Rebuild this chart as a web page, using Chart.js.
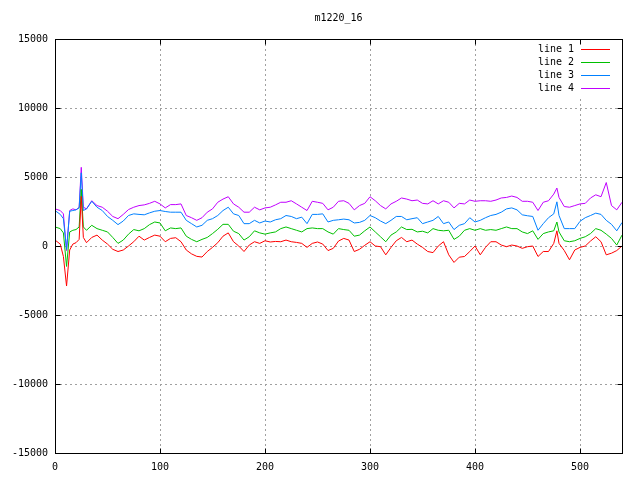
<!DOCTYPE html>
<html><head><meta charset="utf-8">
<script src="https://cdn.jsdelivr.net/npm/chart.js@4/dist/chart.umd.min.js"></script>
<style>html,body{margin:0;padding:0;background:#fff}#wrap{width:640px;height:480px}</style>
</head><body><div id="wrap"><canvas id="c" width="640" height="480"></canvas></div>
<script>
const chartTitle = "m1220_16";
const seriesNames = ["line 1", "line 2", "line 3", "line 4"];
const seriesColors = ["#ff0000", "#00c000", "#0080ff", "#c000ff"];
const xTicks = [0, 100, 200, 300, 400, 500];
const yTicks = [-15000, -10000, -5000, 0, 5000, 10000, 15000];

const xs = [0,5,8,11,14,17,20,23,25,27,30,35,40,45,50,55,60,65,70,75,80,85,90,
95,100,105,110,115,120,125,130,135,140,145,150,155,160,165,170,175,180,
185,190,195,200,205,210,215,220,225,230,235,240,245,250,255,260,265,270,
275,280,285,290,295,300,305,310,315,320,325,330,335,340,345,350,355,360,
365,370,375,380,385,390,395,400,405,410,415,420,425,430,435,440,445,450,
455,460,465,470,475,478,480,485,490,495,500,505,510,515,520,525,530,535,540];

const line1 = [430,140,-760,-2900,-290,140,240,480,3600,620,240,620,790,430,140,-240,-400,-290,0,310,710,430,620,
790,710,310,550,600,310,-290,-570,-750,-800,-400,-100,240,710,950,310,0,-400,
70,310,190,380,290,330,310,430,310,260,190,-100,190,290,140,-330,-170,360,
550,430,-400,-240,50,310,0,-50,-640,-100,380,620,310,430,140,-100,-400,-480,
0,310,-640,-1190,-810,-760,-400,0,-640,-100,310,310,70,-50,70,0,-170,-50,
0,-760,-400,-400,190,1100,190,-330,-1000,-290,-100,0,360,670,310,-640,-520,-330,0];

const line2 = [1380,1260,950,-1480,1020,1140,1190,1380,4100,1380,1140,1500,1260,1140,1020,620,190,430,860,1190,1100,1260,1550,
1740,1670,1100,1310,1260,1310,710,480,310,480,620,900,1210,1570,1570,1070,900,430,
670,1100,950,860,950,1020,1260,1380,1260,1140,1020,1260,1310,1260,1260,1020,860,1260,
1190,1140,710,790,1100,1380,1020,670,310,790,1020,1380,1190,1210,1020,1070,950,1260,
1140,1100,1140,480,710,1140,1260,1140,1260,1140,1190,1140,1260,1380,1260,1260,1020,900,
1100,480,900,1020,1100,1740,1020,380,310,380,550,670,900,1260,1140,860,550,70,790];

const line3 = [2570,2290,1980,-240,2520,2570,2620,2760,5300,2570,2690,3240,2810,2570,2140,1860,1550,1810,2210,2330,2290,2260,2400,
2520,2570,2500,2450,2450,2450,1860,1620,1380,1500,1860,1980,2210,2570,2810,2330,2210,1620,
1620,1860,1670,1810,1740,1900,1980,2210,2140,1980,2090,1620,2290,2290,2330,1740,1860,1900,
1950,1900,1670,1710,1860,2210,2050,1810,1620,1860,2140,2140,1900,1980,2050,1620,1740,1860,
2140,1620,1740,1190,1500,1620,2050,1740,1860,2050,2210,2290,2450,2690,2760,2620,2260,2190,
2140,1140,1620,2050,2330,3200,2210,1260,1260,1260,1790,2050,2210,2380,2290,1860,1570,1100,1700];

const line4 = [2690,2570,2330,-330,2570,2690,2620,2810,5700,2810,2690,3280,2930,2810,2520,2140,1980,2290,2640,2810,2930,2980,3090,
3240,3050,2760,3000,3000,3050,2210,2050,1860,2050,2450,2690,3170,3400,3570,3050,2810,2450,
2450,2810,2620,2760,2810,2980,3170,3170,3280,3050,2810,2570,3240,3170,3090,2620,2810,3240,
3280,3090,2620,2930,3090,3570,3280,2930,2690,3050,3240,3480,3400,3280,3330,3090,3050,3280,
3050,3280,3170,2760,3090,3050,3330,3240,3280,3280,3240,3330,3480,3520,3620,3520,3240,3240,
3170,2570,3170,3280,3760,4200,3520,2860,2810,2930,3050,3090,3480,3710,3570,4600,2930,2620,3170];

const seriesValues = [line1, line2, line3, line4];
const FONT = "'DejaVu Sans Mono', 'Liberation Mono', monospace";

const gp = {
  id: 'gp',
  beforeDatasetsDraw(chart) {
    const {ctx, chartArea: a, scales: {x, y}} = chart;
    ctx.save();
    ctx.strokeStyle = '#a0a0a0';
    ctx.lineWidth = 1;
    ctx.setLineDash([2, 3]);
    xTicks.forEach(v => {
      if (v <= x.min || v >= x.max) return;
      const px = Math.round(x.getPixelForValue(v)) + 0.5;
      ctx.beginPath(); ctx.moveTo(px, a.top); ctx.lineTo(px, a.bottom); ctx.stroke();
    });
    yTicks.forEach(v => {
      if (v <= y.min || v >= y.max) return;
      const py = Math.round(y.getPixelForValue(v)) + 0.5;
      ctx.beginPath(); ctx.moveTo(a.left, py); ctx.lineTo(a.right, py); ctx.stroke();
    });
    ctx.setLineDash([]);
    ctx.fillStyle = '#fff';
    ctx.fillRect(a.right - 95, a.top + 1, 94, 56);
    ctx.restore();
  },
  afterDatasetsDraw(chart) {
    const {ctx, chartArea: a, scales: {x, y}} = chart;
    ctx.save();
    ctx.strokeStyle = '#000';
    ctx.lineWidth = 1;
    const L = Math.round(a.left) + 0.5, R = Math.round(a.right) + 0.5;
    const T = Math.round(a.top) + 0.5, B = Math.round(a.bottom) + 0.5;
    ctx.strokeRect(L, T, R - L, B - T);
    ctx.beginPath();
    xTicks.forEach(v => {
      const px = Math.round(x.getPixelForValue(v)) + 0.5;
      ctx.moveTo(px, B); ctx.lineTo(px, B - 5);
      ctx.moveTo(px, T); ctx.lineTo(px, T + 5);
    });
    yTicks.forEach(v => {
      const py = Math.round(y.getPixelForValue(v)) + 0.5;
      ctx.moveTo(L, py); ctx.lineTo(L + 5, py);
      ctx.moveTo(R, py); ctx.lineTo(R - 5, py);
    });
    ctx.stroke();
    // legend
    ctx.font = '10px ' + FONT;
    ctx.textBaseline = 'middle';
    ctx.textAlign = 'right';
    chart.data.datasets.forEach((ds, i) => {
      const ly = Math.round(a.top + 10 + 13 * i) + 0.5;
      ctx.fillStyle = '#000';
      ctx.fillText(ds.label, a.right - 48, ly);
      ctx.strokeStyle = ds.borderColor;
      ctx.beginPath(); ctx.moveTo(a.right - 41, ly); ctx.lineTo(a.right - 12, ly); ctx.stroke();
    });
    // title
    ctx.fillStyle = '#000';
    ctx.textAlign = 'center';
    ctx.fillText(chartTitle, (a.left + a.right) / 2, 18);
    ctx.restore();
  }
};

new Chart(document.getElementById('c'), {
  type: 'line',
  data: {
    datasets: seriesNames.map((name, i) => ({
      label: name,
      data: xs.map((xv, j) => ({x: xv, y: seriesValues[i][j]})),
      borderColor: seriesColors[i],
      borderWidth: 1,
      pointRadius: 0,
      fill: false,
      tension: 0
    }))
  },
  options: {
    responsive: false,
    animation: false,
    devicePixelRatio: 1,
    layout: {padding: {top: 39, right: 18, left: 0, bottom: 0}},
    plugins: {legend: {display: false}, title: {display: false}, tooltip: {enabled: false}},
    scales: {
      x: {
        type: 'linear', min: 0, max: 540,
        afterBuildTicks: s => { s.ticks = xTicks.map(v => ({value: v})); },
        afterFit: s => { s.height = 27; },
        grid: {display: false, drawTicks: false},
        border: {display: false},
        ticks: {color: '#000', font: {family: FONT, size: 10}, padding: 8, maxRotation: 0, autoSkip: false, callback: v => String(v)}
      },
      y: {
        type: 'linear', min: -15000, max: 15000,
        afterBuildTicks: s => { s.ticks = yTicks.map(v => ({value: v})); },
        afterFit: s => { s.width = 55; },
        grid: {display: false, drawTicks: false},
        border: {display: false},
        ticks: {color: '#000', font: {family: FONT, size: 10}, padding: 7, autoSkip: false, callback: v => String(v)}
      }
    }
  },
  plugins: [gp]
});
</script>
</body></html>
